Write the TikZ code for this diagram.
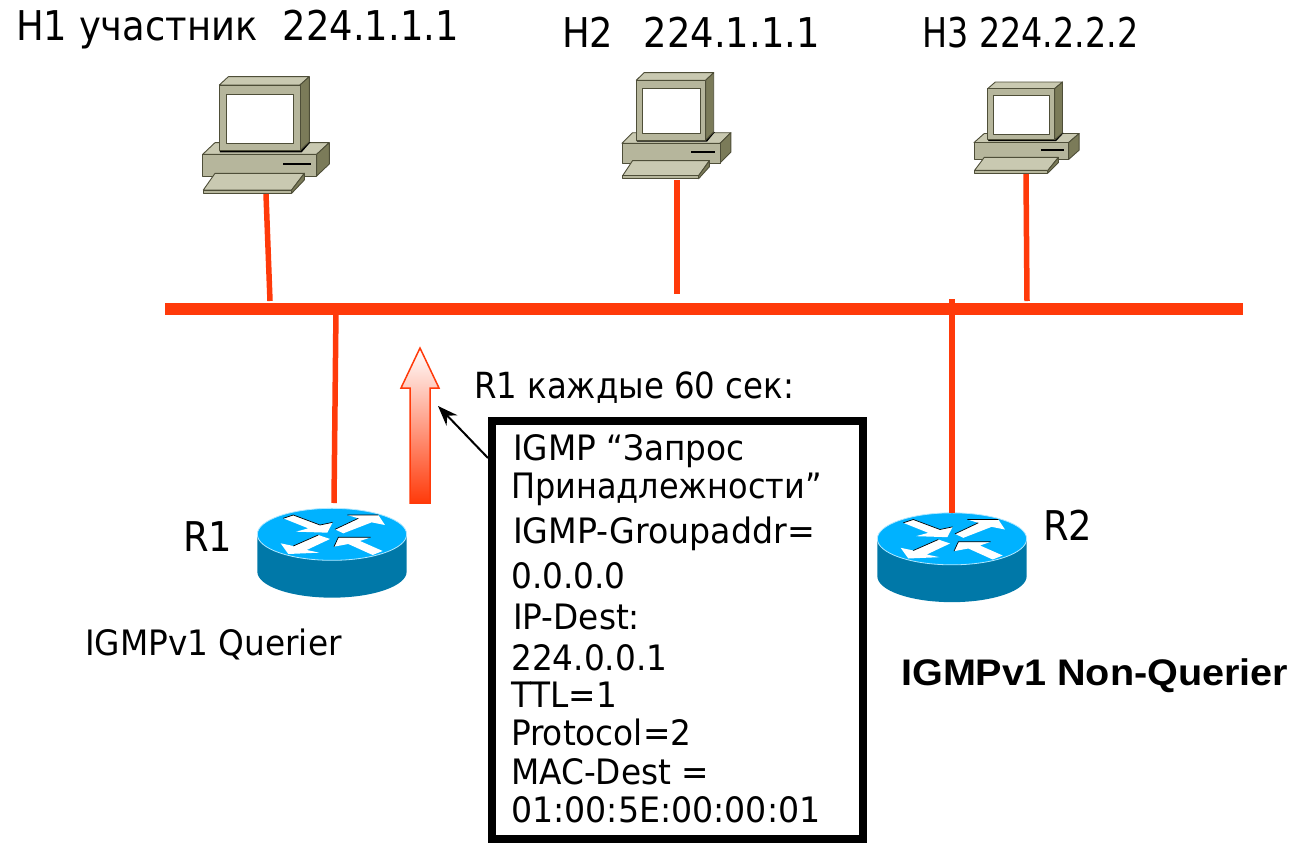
\documentclass[tikz,border=0pt]{standalone}
\usepackage{fontspec}
\setmainfont{DejaVu Sans Condensed}
\newfontfamily\wideA[FakeStretch=1.04]{DejaVu Sans Condensed}
\newfontfamily\wideB[FakeStretch=1.055]{DejaVu Sans Condensed}
\newfontfamily\wideC[FakeStretch=1.015]{DejaVu Sans Condensed}
\newfontfamily\narrowA[FakeStretch=0.905]{DejaVu Sans Condensed}
\newfontfamily\boldlbl[FakeStretch=1.07]{Liberation Sans Bold}
\usetikzlibrary{arrows.meta}
\definecolor{netred}{HTML}{FF3A0A}
\definecolor{pclight}{HTML}{C9C9B1}
\definecolor{pcfront}{HTML}{B6B69C}
\definecolor{pcdark}{HTML}{7B7B59}
\definecolor{pcedge}{HTML}{4E4E38}
\definecolor{rttop}{HTML}{00B2FF}
\definecolor{rtside}{HTML}{0078A8}
\tikzset{
  x=1pt,y=-1pt,
  netline/.style={draw=netred,line width=5.5pt},
  busline/.style={draw=netred,line width=12pt},
  lbl/.style={inner sep=0pt,anchor=base west,font=\fontsize{41}{46}\selectfont},
  midlbl/.style={inner sep=0pt,anchor=base west,font=\wideB\fontsize{35}{40}\selectfont},
  boxtxt/.style={inner sep=0pt,anchor=base west,font=\wideA\fontsize{35}{40}\selectfont},
  pcpart/.style={draw=pcedge,line width=0.9pt,line join=round},
  rtarrow/.style={fill=white,draw=none},
  pics/computer/.style={code={
    \begin{scope}[x=0.3333pt,y=-0.3333pt]
      % base
      \path[pcpart,fill=pclight] (68,283)--(105,248)--(448,248)--(410,283)--cycle;
      \path[pcpart,fill=pcdark] (410,283)--(448,248)--(448,312)--(410,348)--cycle;
      \path[pcpart,fill=pcfront] (68,283) rectangle (410,348);
      \draw[black,line width=1.5pt] (310,312)--(392,312);
      % monitor shadow
      \fill[black] (118,268)--(392,246)--(365,277)--(120,277)--cycle;
      % monitor
      \path[pcpart,fill=pclight] (118,75)--(145,50)--(388,50)--(360,75)--cycle;
      \path[pcpart,fill=pcdark] (360,75)--(388,50)--(388,245)--(360,272)--cycle;
      \path[pcpart,fill=pcfront] (118,75) rectangle (360,272);
      \path[pcpart,fill=white] (140,102) rectangle (340,250);
      % keyboard
      \path[pcpart,fill=pclight] (70,390)--(105,340)--(373,340)--(335,390)--cycle;
      \path[pcpart,fill=pcdark] (335,390)--(373,340)--(373,360)--(335,400)--cycle;
      \path[pcpart,fill=pcfront] (70,390) rectangle (335,400);
    \end{scope}
  }},
  pics/router/.style={code={
    \begin{scope}[x=0.3333pt,y=-0.3333pt]
      \fill[rtside] (52,133)--(52,245) arc[x radius=224,y radius=78,start angle=180,end angle=0]--(500,133)--cycle;
      \fill[rttop] (276,133) ellipse[x radius=224,y radius=78];
      \draw[white!70!rttop,line width=0.8pt] (276,133) ellipse[x radius=224,y radius=78];
      \path[rtarrow] (130,85)--(160,75)--(240,105)--(278,97)--(262,128)--(168,125)--(205,115)--cycle;
      \path[rtarrow] (285,118)--(355,85)--(322,75)--(415,75)--(435,105)--(395,97)--(310,130)--cycle;
      \path[rtarrow] (270,147)--(235,135)--(160,168)--(122,160)--(145,192)--(238,188)--(200,180)--cycle;
      \path[rtarrow] (282,170)--(295,142)--(392,142)--(360,153)--(428,183)--(398,195)--(325,162)--cycle;
      \draw[black,line width=0.7pt] (130,85)--(160,75)--(240,105)--(278,97);
      \draw[black,line width=0.7pt] (285,118)--(355,85) (322,75)--(415,75);
      \draw[black,line width=0.7pt] (160,168)--(235,135);
      \draw[black,line width=0.7pt] (282,170)--(295,142)--(392,142);
    \end{scope}
  }},
}
\begin{document}
\begin{tikzpicture}
\useasboundingbox (0,0) rectangle (1294,844);
% devices
\pic at (180,60) {computer};
\pic at (602.5,57.5) [xscale=0.86,yscale=0.91] {computer};
\pic at (955.2,69) [xscale=0.83,yscale=0.78] {computer};
\pic at (240,490) {router};
\pic at (860,494.5) {router};
% anchor nodes
\coordinate (h1) at (266,194);
\coordinate (h2) at (677,180);
\coordinate (h3) at (1026,174);
\coordinate (r1) at (334,503);
\coordinate (r2) at (952,513);
\coordinate (busL) at (165,309);
\coordinate (busR) at (1243,309);
\coordinate (t1) at (270,301);
\coordinate (t2) at (677,294);
\coordinate (t3) at (1027,301);
\coordinate (t4) at (336,309);
\coordinate (t5) at (952,299);
% network
\draw[busline] (busL)--(busR);
\draw[netline] (h1)--(t1);
\draw[netline] (h2)--(t2);
\draw[netline] (h3)--(t3);
\draw[netline] (t4)--(r1);
\draw[netline] (t5)--(r2);
% big arrow
\path[draw=netred,line width=1.5pt,top color=white,bottom color=netred]
  (420,348)--(439,388)--(430,388)--(430,503)--(410,503)--(410,388)--(401,388)--cycle;
% box
\node[draw=black,line width=8pt,inner sep=0pt,outer sep=0pt,minimum width=371pt,minimum height=418pt] (box) at (677.5,630) {};
\coordinate (boxleft) at (488,458);
\coordinate (arrowside) at (438,406);
\draw[-{Stealth[length=20pt,width=15pt]},line width=2pt] (boxleft)--(arrowside);
% labels
\node[lbl] (l1) at (16,40) {H1 участник\ \ \hspace{2pt}224.1.1.1};
\node[lbl] (l2) at (562,47) {H2\ \ \hspace{7pt}224.1.1.1};
\node[lbl,font=\narrowA\fontsize{41}{46}\selectfont] (l3) at (922,47) {H3 224.2.2.2};
\node[midlbl,font=\fontsize{36}{40}\selectfont] (l4) at (474,398) {R1 каждые 60 сек:};
\node[lbl] (l5) at (183,551) {R1};
\node[lbl] (l6) at (1043,540) {R2};
\node[midlbl,font=\wideA\fontsize{35}{40}\selectfont] (l7) at (85,655) {IGMPv1 Querier};
\node[inner sep=0pt,anchor=base west,font=\boldlbl\fontsize{37}{42}\selectfont] (l8) at (901,685) {IGMPv1 Non-Querier};
% box text
\node[boxtxt] (b1) at (513,460) {IGMP “Запрос};
\node[boxtxt,font=\wideC\fontsize{35}{40}\selectfont] (b2) at (511,498) {Принадлежности”};
\node[boxtxt,font=\wideB\fontsize{35}{40}\selectfont] (b3) at (513,543) {IGMP-Groupaddr=};
\node[boxtxt] (b4) at (511,588) {0.0.0.0};
\node[boxtxt] (b5) at (513,629) {IP-Dest:};
\node[boxtxt] (b6) at (511,670) {224.0.0.1};
\node[boxtxt] (b7) at (511,707) {TTL=1};
\node[boxtxt] (b8) at (511,745) {Protocol=2};
\node[boxtxt] (b9) at (511,784) {MAC-Dest =};
\node[boxtxt,font=\wideB\fontsize{35}{40}\selectfont] (b10) at (511,822) {01:00:5E:00:00:01};
\end{tikzpicture}
\end{document}
